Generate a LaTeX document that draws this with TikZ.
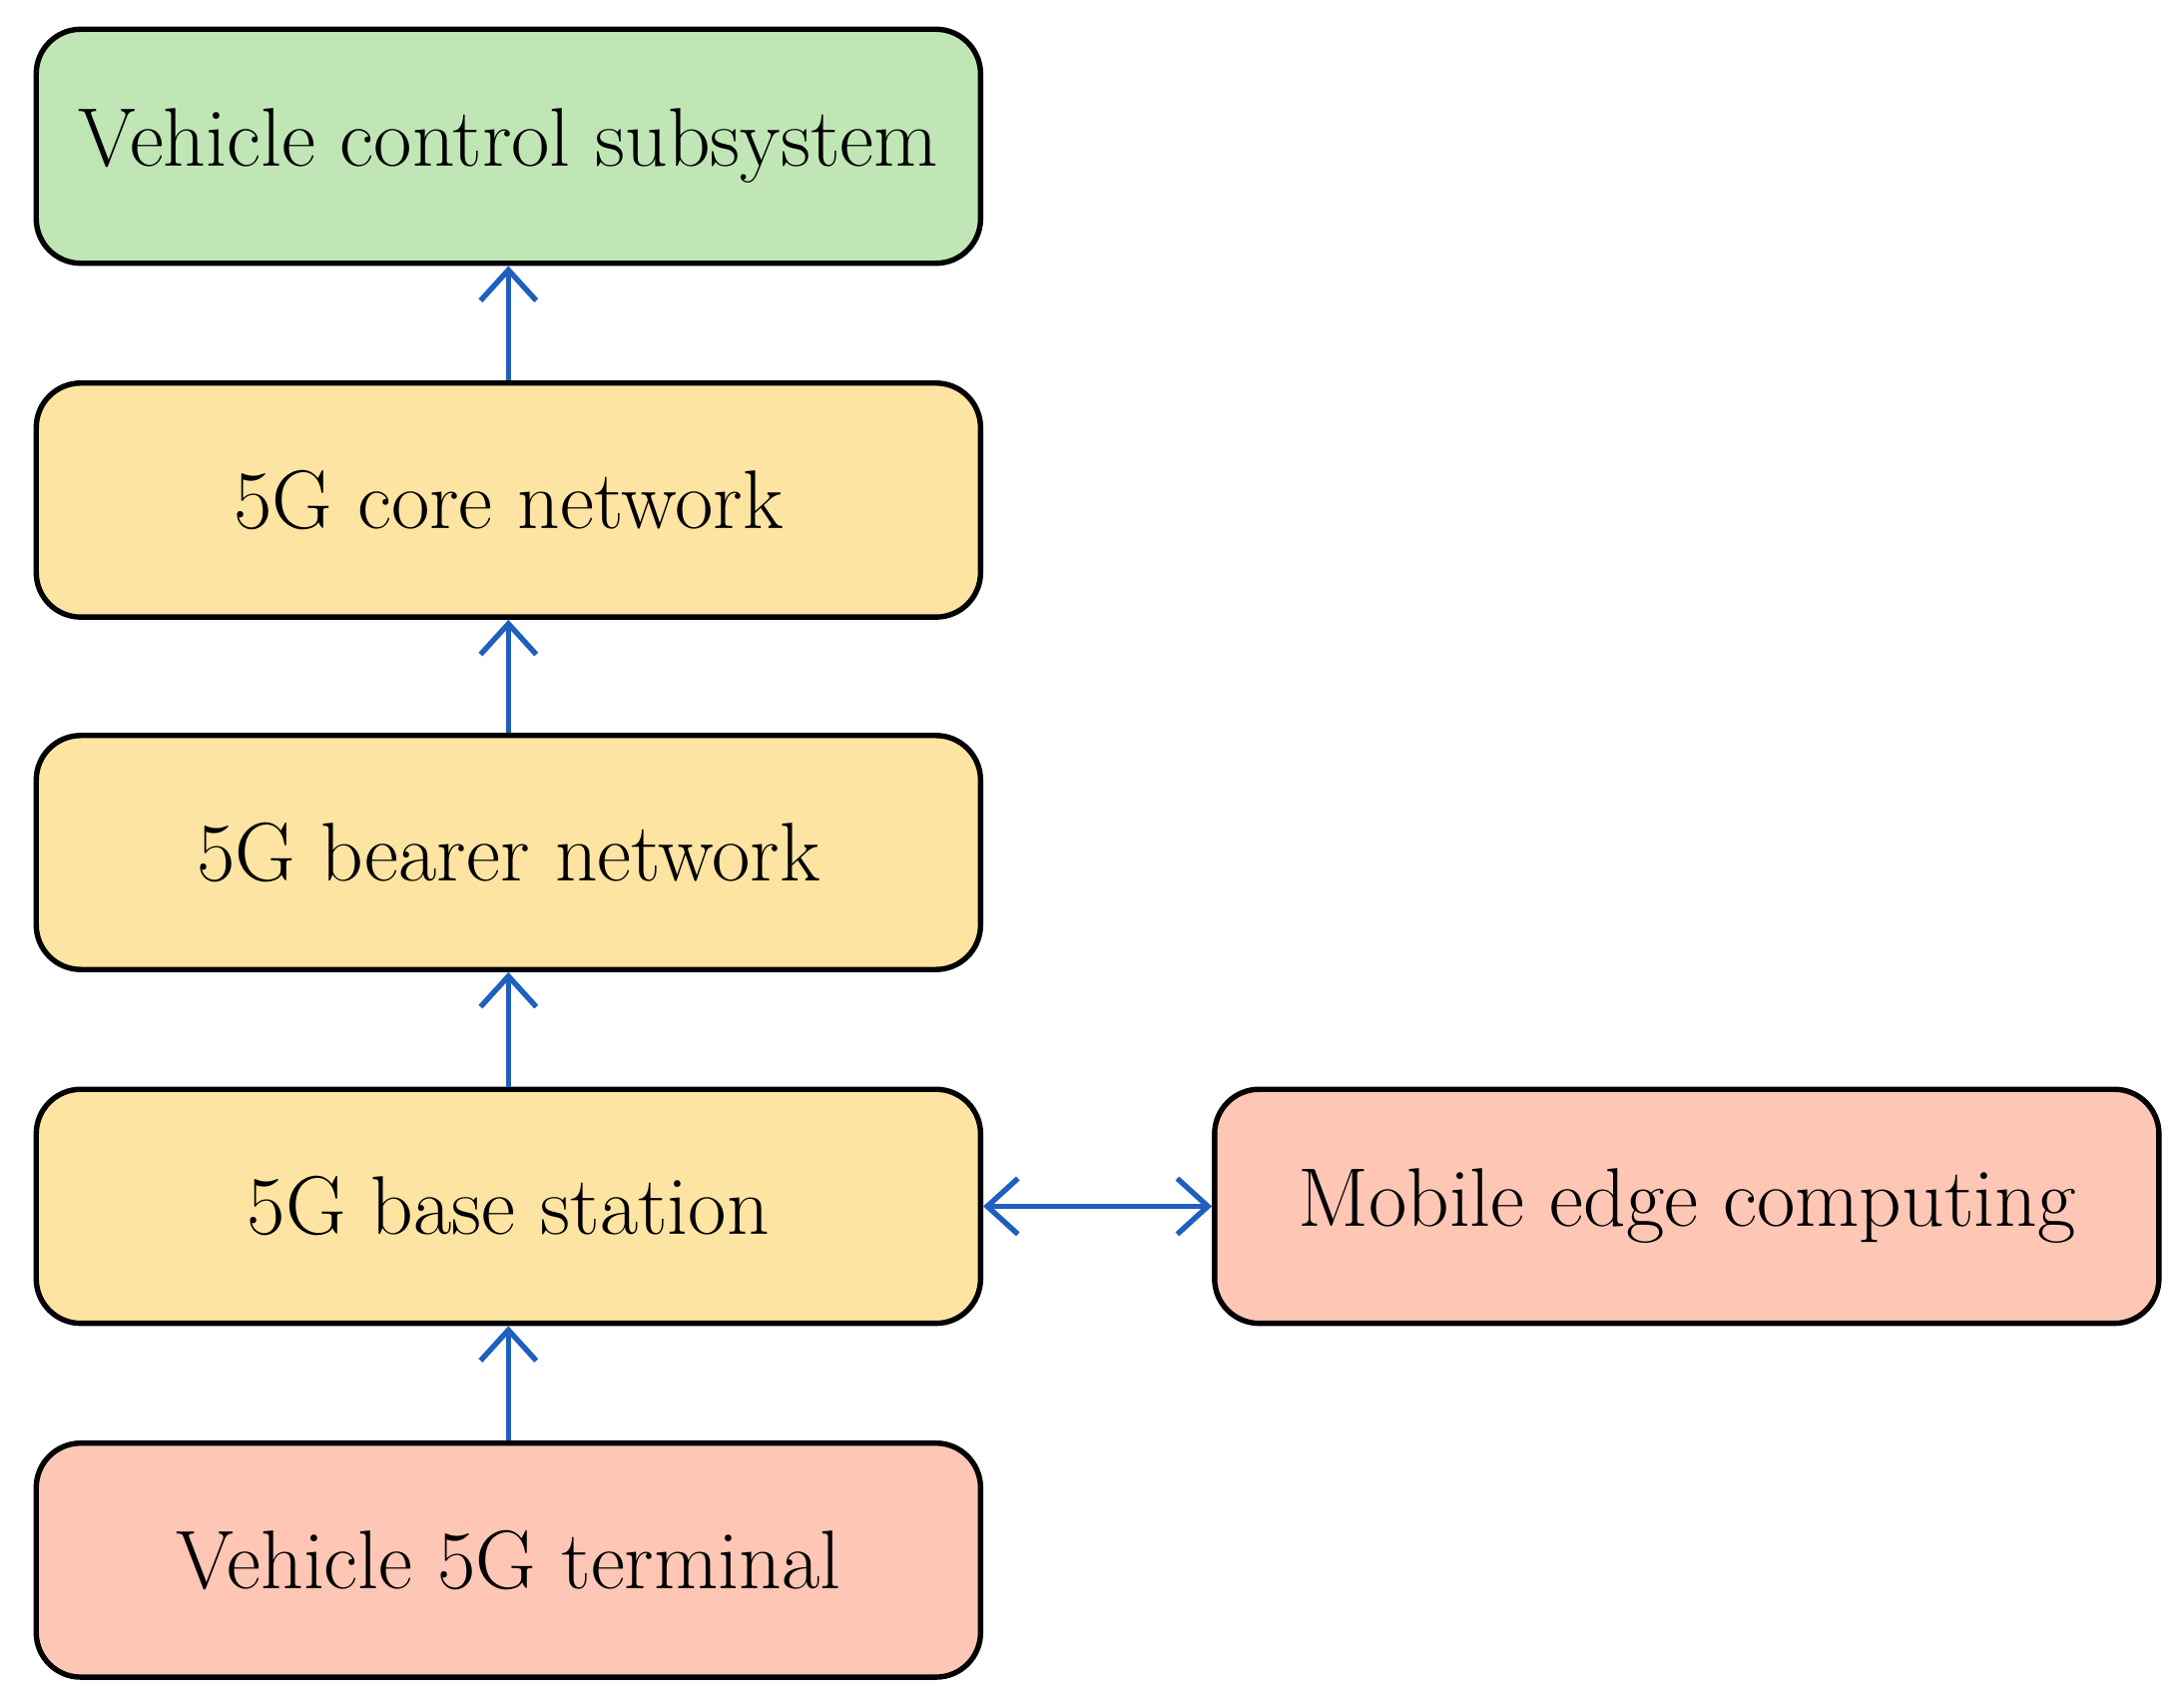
\documentclass[tikz,border=0pt]{standalone}
\usepackage{tikz}
\usetikzlibrary{arrows.meta}
\definecolor{boxgreen}{HTML}{C0E6B5}
\definecolor{boxyellow}{HTML}{FDE4A2}
\definecolor{boxred}{HTML}{FDC6B5}
\definecolor{linkblue}{HTML}{1F5FBF}
\tikzset{
  layer/.style={draw=black, line width=1.1pt, rounded corners=0.32cm,
    minimum width=6.78cm, minimum height=1.68cm, font=\fontsize{17}{20}\selectfont},
  link/.style={draw=linkblue, line width=1.1pt, -{Straight Barb[length=2.2mm,width=4mm]}}
}
\begin{document}
\begin{tikzpicture}
        \useasboundingbox (0,0) rectangle (15.68,-12.24);

        \node[layer, fill=boxgreen]  (control) at (3.65,-1.05)  {Vehicle control subsystem};
        \node[layer, fill=boxyellow] (core)    at (3.65,-3.59)  {5G core network};
        \node[layer, fill=boxyellow] (bearer)  at (3.65,-6.12)  {5G bearer network};
        \node[layer, fill=boxyellow] (base)    at (3.65,-8.66)  {5G base station};
        \node[layer, fill=boxred]    (term)    at (3.65,-11.20) {Vehicle 5G terminal};
        \node[layer, fill=boxred]    (mec)     at (12.11,-8.66) {Mobile edge computing};

        \draw[link] (term) -- (base);
        \draw[link] (base) -- (bearer);
        \draw[link] (bearer) -- (core);
        \draw[link] (core) -- (control);
        \draw[link, {Straight Barb[length=2.2mm,width=4mm]}-{Straight Barb[length=2.2mm,width=4mm]}] (base) -- (mec);

    \end{tikzpicture}
\end{document}
